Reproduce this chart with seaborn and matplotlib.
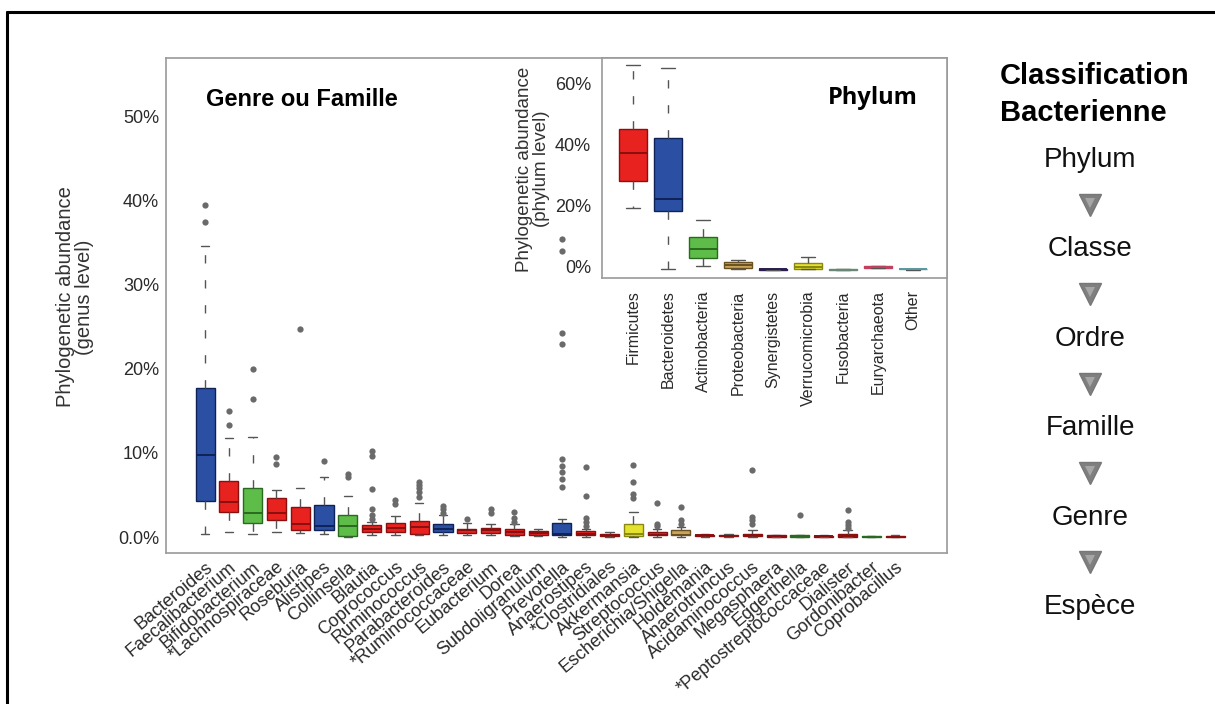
import numpy as np
import pandas as pd
import matplotlib
matplotlib.use("Agg")
import matplotlib.pyplot as plt
import seaborn as sns
from matplotlib.lines import Line2D

# genus level boxes (values in %)
GENERA = ["Bacteroides", "Faecalibacterium", "Bifidobacterium", "*Lachnospiraceae",
          "Roseburia", "Alistipes", "Collinsella", "Blautia", "Coprococcus",
          "Ruminococcus", "Parabacteroides", "*Ruminococcaceae", "Eubacterium",
          "Dorea", "Subdoligranulum", "Prevotella", "Anaerostipes", "*Clostridiales",
          "Akkermansia", "Streptococcus", "Escherichia/Shigella", "Holdemania",
          "Anaerotruncus", "Acidaminococcus", "Megasphaera", "Eggerthella",
          "*Peptostreptococcaceae", "Dialister", "Gordonibacter", "Coprobacillus"]
GENUS_PHYLUM = ["Bacteroidetes", "Firmicutes", "Actinobacteria", "Firmicutes",
                "Firmicutes", "Bacteroidetes", "Actinobacteria", "Firmicutes", "Firmicutes",
                "Firmicutes", "Bacteroidetes", "Firmicutes", "Firmicutes",
                "Firmicutes", "Firmicutes", "Bacteroidetes", "Firmicutes", "Firmicutes",
                "Verrucomicrobia", "Firmicutes", "Proteobacteria", "Firmicutes",
                "Firmicutes", "Firmicutes", "Firmicutes", "Actinobacteria",
                "Firmicutes", "Firmicutes", "Actinobacteria", "Firmicutes"]
GENUS_LOW = [0.4, 0.6, 0.4, 0.6, 0.5, 0.4, 0.0, 0.2, 0.2, 0.2, 0.2, 0.2, 0.2, 0.1, 0.1,
             0.0, 0.0, 0.0, 0.0, 0.0, 0.0, 0.0, 0.0, 0.0, 0.0, 0.0, 0.0, 0.0, 0.0, 0.0]
GENUS_Q1 = [4.3, 3.0, 1.7, 2.0, 0.8, 0.8, 0.1, 0.6, 0.6, 0.4, 0.6, 0.5, 0.5, 0.3, 0.3,
            0.2, 0.2, 0.1, 0.1, 0.2, 0.2, 0.1, 0.1, 0.1, 0.05, 0.05, 0.05, 0.05, 0.03, 0.03]
GENUS_MED = [9.8, 4.2, 2.9, 2.9, 1.5, 1.3, 1.3, 1.0, 1.1, 1.2, 1.0, 0.8, 0.8, 0.6, 0.5,
             0.4, 0.4, 0.2, 0.4, 0.3, 0.3, 0.2, 0.15, 0.2, 0.1, 0.1, 0.1, 0.15, 0.05, 0.05]
GENUS_Q3 = [17.7, 6.7, 5.8, 4.7, 3.6, 3.8, 2.6, 1.4, 1.7, 1.9, 1.5, 1.0, 1.1, 0.9, 0.7,
            1.7, 0.7, 0.4, 1.5, 0.6, 0.8, 0.3, 0.3, 0.4, 0.2, 0.2, 0.15, 0.4, 0.1, 0.1]
GENUS_HIGH = [34.6, 11.8, 11.9, 5.6, 5.8, 7.2, 4.9, 1.8, 2.5, 4.0, 2.6, 1.7, 1.6, 1.6, 0.9,
              2.2, 1.0, 0.6, 3.0, 1.0, 1.2, 0.4, 0.4, 0.8, 0.3, 0.3, 0.2, 0.8, 0.15, 0.2]
GENUS_OUTLIERS = [[39.5, 37.5], [15.0, 13.3], [20.0, 16.4], [9.5, 8.7], [24.7], [9.0],
                  [7.5, 7.1], [10.2, 9.6, 5.7, 3.3, 2.6, 2.1], [4.4, 3.9],
                  [6.6, 6.2, 5.8, 5.3, 4.8], [3.7, 3.3, 2.9], [2.2], [3.3, 2.9],
                  [3.0, 2.3, 1.8], [], [35.5, 34.0, 24.3, 23.0, 9.3, 8.5, 7.7, 6.9, 6.0],
                  [8.3, 4.9, 2.3, 1.8, 1.3], [], [8.6, 6.5, 5.1, 4.6], [4.0, 1.6, 1.3],
                  [3.6, 2.0, 1.6], [], [], [8.0, 2.4, 2.0, 1.6], [], [2.6], [],
                  [3.2, 1.8, 1.4, 1.1], [], []]

# phylum level boxes (inset, values in %)
PHYLA = ["Firmicutes", "Bacteroidetes", "Actinobacteria", "Proteobacteria",
         "Synergistetes", "Verrucomicrobia", "Fusobacteria", "Euryarchaeota", "Other"]
PHYLUM_LOW = [19, -1, 0, -1.0, -1.3, -1.0, -1.4, -0.6, -1.2]
PHYLUM_Q1 = [28, 18, 2.5, -0.5, -1.2, -0.8, -1.3, -0.5, -1.1]
PHYLUM_MED = [37, 22, 5.5, 0.3, -1.1, -0.2, -1.2, -0.3, -1.0]
PHYLUM_Q3 = [45, 42, 9.5, 1.2, -1.0, 1.0, -1.1, -0.1, -0.9]
PHYLUM_HIGH = [66, 65, 15, 2.0, -0.9, 3.0, -1.0, 0.0, -0.8]

GENUS_YTICKS = [0, 10, 20, 30, 40, 50]
GENUS_YLABELS = ["0.0%", "10%", "20%", "30%", "40%", "50%"]
PHYLUM_YTICKS = [0, 20, 40, 60]
PHYLUM_YLABELS = ["0%", "20%", "40%", "60%"]

LEVELS = ["Phylum", "Classe", "Ordre", "Famille", "Genre", "Espèce"]

# fill colour, dark line colour
PALETTE = {
    "Firmicutes": ("#e8221e", "#8a0f0f"),
    "Bacteroidetes": ("#2b4fa2", "#0f2258"),
    "Actinobacteria": ("#5dbd48", "#2a6a20"),
    "Proteobacteria": ("#c9a45c", "#6b5020"),
    "Synergistetes": ("#4a3a7a", "#2a1e50"),
    "Verrucomicrobia": ("#e4e22e", "#8a8810"),
    "Fusobacteria": ("#8aa898", "#6a8878"),
    "Euryarchaeota": ("#e08090", "#c04060"),
    "Other": ("#7ab0b8", "#5a98a0"),
}

W, H = 1215, 704


def draw_boxes(ax, names, groups, low, q1, med, q3, high, width, capwidth):
    """
    Draw one box per name from its five summary values.
    """
    frame = pd.DataFrame({
        "name": np.repeat(names, 5),
        "group": np.repeat(groups, 5),
        "value": np.column_stack([low, q1, med, q3, high]).ravel(),
    })
    for group, part in frame.groupby("group", sort=False):
        face, dark = PALETTE[group]
        sns.boxplot(data=part, x="name", y="value", order=names, ax=ax,
                    color=face, linecolor=dark, saturation=1, width=width,
                    whis=(0, 100), linewidth=1, showfliers=False,
                    whiskerprops=dict(color="#555555", linestyle=(0, (6, 12)), linewidth=1),
                    capprops=dict(color="#555555", linewidth=1),
                    medianprops=dict(color=dark, linewidth=1.4),
                    capwidths=capwidth)


def style_spines(ax):
    for spine in ax.spines.values():
        spine.set_color("#9a9a9a")
        spine.set_linewidth(1.2)


sns.set_style("white")
plt.rcParams["font.family"] = ["Liberation Sans", "DejaVu Sans"]

fig = plt.figure(figsize=(W / 100, H / 100), dpi=100)

# main genus-level chart
ax = fig.add_axes([166 / W, 1 - 553 / H, (947 - 166) / W, (553 - 58) / H])
draw_boxes(ax, GENERA, GENUS_PHYLUM, GENUS_LOW, GENUS_Q1, GENUS_MED, GENUS_Q3,
           GENUS_HIGH, 0.8, 0.35)
outliers = pd.DataFrame({
    "name": [n for n, vals in zip(GENERA, GENUS_OUTLIERS) for _ in vals],
    "value": [v for vals in GENUS_OUTLIERS for v in vals],
})
sns.stripplot(data=outliers, x="name", y="value", order=GENERA, jitter=False,
              color="#6a6a6a", size=4.5, linewidth=0, ax=ax, zorder=3)
ax.set_xlim(-1.64, 31.18)
ax.set_ylim(-1.9, 57)
ax.set_xticks(range(len(GENERA)))
ax.set_xticklabels(GENERA, rotation=40, ha="right", rotation_mode="anchor")
ax.set_yticks(GENUS_YTICKS)
ax.set_yticklabels(GENUS_YLABELS)
ax.set_xlabel("")
ax.set_ylabel("")
ax.tick_params(axis="both", direction="in", length=9, width=1, color="#777777",
               labelsize=13, labelcolor="#2a2a2a")
ax.tick_params(axis="x", pad=4)
ax.tick_params(axis="y", pad=5)
style_spines(ax)

# phylum-level inset
inset = fig.add_axes([602 / W, 1 - 278 / H, (947 - 602) / W, (278 - 58) / H])
inset.set_facecolor("white")
draw_boxes(inset, PHYLA, PHYLA, PHYLUM_LOW, PHYLUM_Q1, PHYLUM_MED, PHYLUM_Q3,
           PHYLUM_HIGH, 0.8, 0.38)
inset.set_xlim(-0.886, 8.97)
inset.set_ylim(-3.9, 68.2)
inset.set_xticks(range(len(PHYLA)))
inset.set_xticklabels(PHYLA, rotation=90)
inset.set_yticks(PHYLUM_YTICKS)
inset.set_yticklabels(PHYLUM_YLABELS)
inset.set_xlabel("")
inset.set_ylabel("")
inset.tick_params(axis="both", direction="out", length=6, width=1, color="#777777",
                  labelcolor="#2a2a2a")
inset.tick_params(axis="x", labelsize=11.5, pad=3)
inset.tick_params(axis="y", labelsize=13, pad=2)
style_spines(inset)

# axis titles and panel names
fig.text(75 / W, 1 - 297 / H, "Phylogenetic abundance\n(genus level)", rotation=90,
         ha="center", va="center", multialignment="center", fontsize=14.5,
         color="#333333", linespacing=1.0)
fig.text(533 / W, 1 - 169 / H, "Phylogenetic abundance\n(phylum level)", rotation=90,
         ha="center", va="center", multialignment="center", fontsize=13.5,
         color="#333333", linespacing=1.0)
fig.text(206 / W, 1 - 99 / H, "Genre ou Famille", ha="left", va="center",
         fontsize=17, fontweight="bold", color="black")
fig.text(918 / W, 1 - 98 / H, "Phylum", ha="right", va="center", color="black",
         fontsize=17, fontweight="bold", family=["Open Sans", "DejaVu Sans"])

# classification hierarchy on the right
fig.text(1000 / W, 1 - 76 / H, "Classification", ha="left", va="center",
         fontsize=21, fontweight="bold", color="black")
fig.text(1000 / W, 1 - 113 / H, "Bacterienne", ha="left", va="center",
         fontsize=21, fontweight="bold", color="black")

overlay = fig.add_axes([0, 0, 1, 1])
overlay.set_xlim(0, W)
overlay.set_ylim(H, 0)
overlay.axis("off")

level_y = np.linspace(160, 607, len(LEVELS))
for i, level in enumerate(LEVELS):
    overlay.text(1090, level_y[i], level, ha="center", va="center",
                 fontsize=20, color="#111111")
mid_y = (level_y[:-1] + level_y[1:]) / 2
overlay.plot(np.full(len(mid_y), 1090), mid_y, linestyle="none", marker="v",
             markersize=16, color="#7f7f7f", markeredgecolor="#777777")
overlay.plot(np.full(len(mid_y), 1090), mid_y - 2, linestyle="none", marker="v",
             markersize=7, color="#a6a6a6", markeredgewidth=0)

# outer frame (left and top)
overlay.add_artist(Line2D([7, 7], [H, 12], color="black", lw=2.2))
overlay.add_artist(Line2D([7, W], [12, 12], color="black", lw=2.2))

fig.savefig("out.png", dpi=100)
plt.close(fig)
